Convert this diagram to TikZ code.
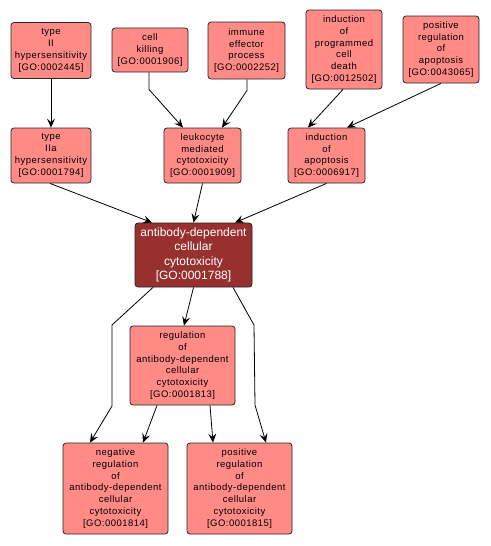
\documentclass[tikz,border=0pt]{standalone}
\usepackage{fontspec}
\setmainfont{Liberation Sans}
\newfontfamily\lsfont[LetterSpace=5]{Liberation Sans}
\usetikzlibrary{arrows.meta}
\definecolor{gofill}{RGB}{255,138,134}
\definecolor{gomain}{RGB}{153,48,48}
\tikzset{
  term/.style={draw=black!85, line width=0.8pt, fill=gofill, rounded corners=3pt,
    align=center, inner sep=0pt, font=\lsfont\fontsize{9.5}{11.8}\selectfont},
  mainterm/.style={term, fill=gomain, text=white, font=\fontsize{12}{14.5}\selectfont},
  edge/.style={draw=black, line width=0.8pt, -{Stealth[length=9pt,width=8pt,inset=3.5pt]}}
}
\begin{document}
\begin{tikzpicture}[x=1pt,y=-1pt]
\useasboundingbox (0,0) rectangle (490,546);
\node[term, minimum width=80pt, minimum height=56pt] (t2) at (51,50.5) {type\\II\\hypersensitivity\\{[GO:0002445]}};
\node[term, minimum width=76pt, minimum height=44pt] (ck) at (150,50) {cell\\killing\\{[GO:0001906]}};
\node[term, minimum width=77pt, minimum height=57pt] (ie) at (246.5,50.5) {immune\\effector\\process\\{[GO:0002252]}};
\node[term, minimum width=76pt, minimum height=79pt] (ipcd) at (344,49.5) {induction\\of\\programmed\\cell\\death\\{[GO:0012502]}};
\node[term, minimum width=76pt, minimum height=67pt] (pra) at (441,49.5) {positive\\regulation\\of\\apoptosis\\{[GO:0043065]}};
\node[term, minimum width=80pt, minimum height=55pt] (t2a) at (51,155.5) {type\\IIa\\hypersensitivity\\{[GO:0001794]}};
\node[term, minimum width=77pt, minimum height=55pt] (lk) at (202.5,155.5) {leukocyte\\mediated\\cytotoxicity\\{[GO:0001909]}};
\node[term, minimum width=77pt, minimum height=55pt] (ia) at (326.5,155.5) {induction\\of\\apoptosis\\{[GO:0006917]}};
\node[mainterm, minimum width=117pt, minimum height=64pt] (adcc) at (193.5,255) {antibody-dependent\\cellular\\cytotoxicity\\{[GO:0001788]}};
\node[term, minimum width=105pt, minimum height=79pt] (reg) at (182.5,365.5) {regulation\\of\\antibody-dependent\\cellular\\cytotoxicity\\{[GO:0001813]}};
\node[term, minimum width=105pt, minimum height=91pt] (neg) at (115.5,488.5) {negative\\regulation\\of\\antibody-dependent\\cellular\\cytotoxicity\\{[GO:0001814]}};
\node[term, minimum width=105pt, minimum height=91pt] (pos) at (239.5,488.5) {positive\\regulation\\of\\antibody-dependent\\cellular\\cytotoxicity\\{[GO:0001815]}};

\draw[edge] (t2.south) -- (t2a.north);
\draw[edge] ([xshift=-1pt]ck.south) -- ++(0,17) -- ([xshift=-19.5pt]lk.north);
\draw[edge] ([xshift=0.5pt]ie.south) -- ++(0,11) -- ([xshift=19.5pt]lk.north);
\draw[edge] ([xshift=-1pt]ipcd.south) -- ([xshift=-18.5pt]ia.north);
\draw[edge] (pra.south) -- ([xshift=20.5pt]ia.north);
\draw[edge] ([xshift=-1pt]t2a.south) -- ([xshift=-41.5pt]adcc.north);
\draw[edge] (lk.south) -- (adcc.north);
\draw[edge] (ia.south) -- ([xshift=41.5pt]adcc.north);
\draw[edge] ([xshift=-40.5pt]adcc.south) -- (112,325) -- (112,406) -- ([xshift=-25.5pt]neg.north);
\draw[edge] (adcc.south) -- ([xshift=1.5pt]reg.north);
\draw[edge] ([xshift=39.5pt]adcc.south) -- (254,325) -- (255,405) -- ([xshift=26.5pt]pos.north);
\draw[edge] ([xshift=-25.5pt]reg.south) -- ([xshift=27.5pt]neg.north);
\draw[edge] ([xshift=27.5pt]reg.south) -- ([xshift=-26.5pt]pos.north);
\end{tikzpicture}
\end{document}
